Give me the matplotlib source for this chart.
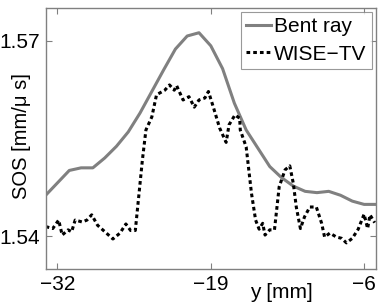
import numpy as np
import matplotlib
matplotlib.use("Agg")
import matplotlib.pyplot as plt

plt.rcParams['font.family'] = ['Liberation Sans', 'DejaVu Sans']

# Bent ray reconstruction (1 mm steps)
y_bent = np.arange(-33, -4, 1)
sos_bent = [1.5463, 1.5482, 1.5501, 1.5505, 1.5505, 1.5520, 1.5538, 1.5560,
            1.5589, 1.5622, 1.5655, 1.5687, 1.5707, 1.5712, 1.5692, 1.5657,
            1.5604, 1.5563, 1.5535, 1.5507, 1.5490, 1.5477, 1.5469, 1.5467,
            1.5469, 1.5463, 1.5454, 1.5449, 1.5449]

# WISE-TV reconstruction
y_wise = [-33.0, -32.4, -31.9, -31.6, -31.1, -30.8, -30.5, -29.9, -29.5, -29.1,
          -28.6, -27.85, -27.3, -26.7, -26.2, -25.8, -25.4, -25.2, -24.8, -24.5,
          -24.0, -23.6, -22.9, -22.5, -22.1, -21.9, -21.35, -20.85, -20.4, -20.0,
          -19.5, -19.2, -18.8, -18.25, -17.7, -17.45, -16.95, -16.55, -16.5, -16.0,
          -15.55, -15.2, -14.9, -14.6, -14.4, -14.0, -13.6, -13.2, -12.7, -12.3,
          -12.0, -11.75, -11.4, -11.05, -10.6, -10.05, -9.6, -9.35, -8.9, -8.35,
          -7.9, -7.5, -7.0, -6.5, -6.0, -5.7, -5.5, -5.1]
sos_wise = [1.5415, 1.5412, 1.5425, 1.5402, 1.5410, 1.5407, 1.5425, 1.5422, 1.5425, 1.5433,
            1.5417, 1.5405, 1.5396, 1.5405, 1.5419, 1.5409, 1.5409, 1.5445, 1.5517, 1.5563,
            1.5583, 1.5617, 1.5624, 1.5632, 1.5624, 1.5631, 1.5609, 1.5614, 1.5598, 1.5609,
            1.5612, 1.5622, 1.5599, 1.5566, 1.5544, 1.5571, 1.5586, 1.5581, 1.5563, 1.5537,
            1.5466, 1.5425, 1.5411, 1.5420, 1.5402, 1.5410, 1.5410, 1.5476, 1.5502, 1.5508,
            1.5481, 1.5445, 1.5412, 1.5430, 1.5445, 1.5445, 1.5420, 1.5399, 1.5405, 1.5399,
            1.5397, 1.5390, 1.5397, 1.5411, 1.5434, 1.5412, 1.5433, 1.5421]

xticks = [-32, -19, -6]
yticks = [1.54, 1.57]

fig = plt.figure(figsize=(3.82, 3.05), dpi=100)
ax = fig.add_axes([0.1196, 0.118, 0.8644, 0.856])

ax.plot(y_bent, sos_bent, color='#808080', lw=2.2, label='Bent ray')
ax.plot(y_wise, sos_wise, color='black', lw=2.2, linestyle=(0, (1.2, 1.0)),
        label='WISE\u2212TV')

ax.set_xlim(-33, -5)
ax.set_ylim(1.535, 1.575)
ax.set_xticks(xticks)
ax.set_xticklabels(['\u221232', '\u221219', '\u22126'])
ax.set_yticks(yticks)
ax.set_yticklabels(['1.54', '1.57'])

for s in ax.spines.values():
    s.set_color('#808080')
    s.set_linewidth(1.0)
ax.tick_params(direction='in', top=True, right=True, length=4, width=0.8,
               color='#808080', labelsize=15, pad=4)

ax.set_xlabel('y [mm]', fontsize=15, va='baseline')
ax.xaxis.set_label_coords(0.715, -0.111)
ax.set_ylabel('SOS [mm/\u03bc s]', fontsize=14.5)
ax.yaxis.set_label_coords(-0.043, 0.51)

leg = ax.legend(loc='upper right', fontsize=15, frameon=True, fancybox=False,
                handlelength=1.2, handletextpad=0.15, borderpad=0.25,
                labelspacing=0.4, borderaxespad=0.2)
leg.get_frame().set_edgecolor('#808080')
leg.get_frame().set_linewidth(0.8)

fig.savefig('out.png', dpi=100)
